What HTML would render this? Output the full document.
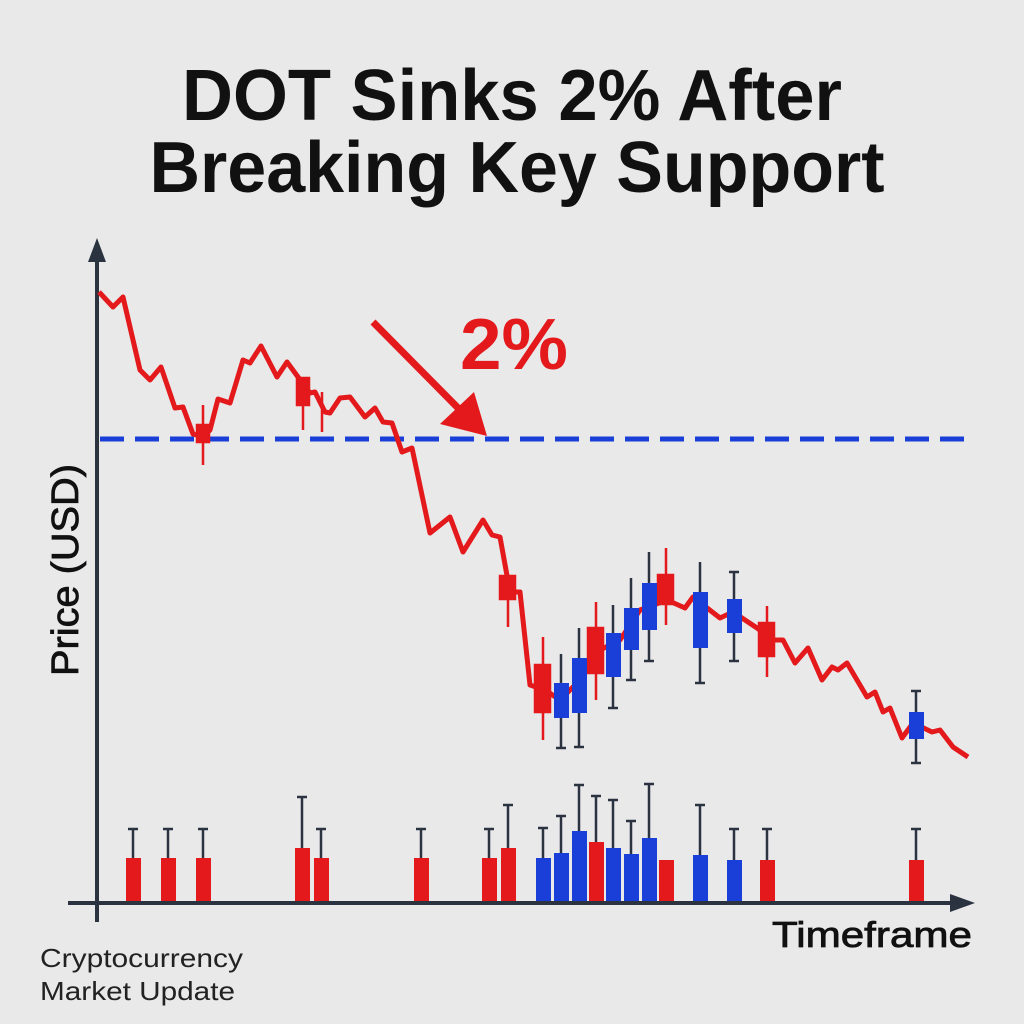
<!DOCTYPE html>
<html><head><style>html,body{margin:0;padding:0;background:#e9e9ea;}svg{display:block}</style></head>
<body>
<svg width="1024" height="1024" viewBox="0 0 1024 1024" xmlns="http://www.w3.org/2000/svg" font-family="Liberation Sans, Arial, sans-serif">
<rect width="1024" height="1024" fill="#e9e9ea"/>
<text x="512" y="120" text-anchor="middle" font-size="72" font-weight="bold" fill="#111" textLength="660" lengthAdjust="spacingAndGlyphs">DOT Sinks 2% After</text>
<text x="517" y="192" text-anchor="middle" font-size="72" font-weight="bold" fill="#111" textLength="735" lengthAdjust="spacingAndGlyphs">Breaking Key Support</text>

<g stroke="#2b3340" stroke-width="4" fill="#2b3340">
<line x1="97" y1="255" x2="97" y2="922"/>
<polygon points="97,238 88,262 106,262" stroke="none"/>
<line x1="68" y1="903" x2="955" y2="903"/>
<polygon points="975,903 950,894 950,912" stroke="none"/>
</g>

<line x1="100" y1="439" x2="970" y2="439" stroke="#1a3fd8" stroke-width="5" stroke-dasharray="24,11"/>

<polyline fill="none" stroke="#e3191c" stroke-width="5" stroke-linejoin="round" points="99,292 113,307 123,297 140,370 150,380 161,367 175,408 183,407 193,434 203,437 210,430 218,399 230,403 243,360 250,363 261,346 277,377 287,362 298,377 310,393 315,392 325,412 330,413 340,398 350,397 365,417 375,408 383,422 392,423 402,452 412,448 430,533 450,517 463,552 483,520 492,535 500,537 510,592 520,592 530,685 545,690 560,700 580,680 600,650 620,640 640,610 667,600 685,608 693,597 720,618 733,612 757,628 773,640 783,640 795,663 808,648 822,680 832,667 838,670 847,663 867,697 875,692 883,712 890,708 902,738 913,723 932,732 940,730 953,747 968,757"/>

<g stroke-width="2.5">
<g stroke="#e3191c" fill="#e3191c">
<line x1="203" y1="405" x2="203" y2="465"/><rect x="197" y="425" width="12" height="17"/>
<line x1="303" y1="378" x2="303" y2="430"/><rect x="297" y="378" width="12" height="27"/>
<line x1="322" y1="392" x2="322" y2="432"/>
<line x1="508" y1="576" x2="508" y2="627"/><rect x="500" y="576" width="15" height="23"/>
<line x1="543" y1="637" x2="543" y2="740"/><rect x="535" y="665" width="15" height="47"/>
<line x1="596" y1="602" x2="596" y2="700"/><rect x="588" y="628" width="15" height="45"/>
<line x1="666" y1="548" x2="666" y2="625"/><rect x="658" y="575" width="15" height="29"/>
<line x1="767" y1="606" x2="767" y2="677"/><rect x="759" y="623" width="15" height="33"/>
</g>
<g stroke="#2b3340">
<line x1="561" y1="654" x2="561" y2="748"/><line x1="556" y1="748" x2="566" y2="748"/>
<line x1="579" y1="628" x2="579" y2="747"/><line x1="574" y1="747" x2="584" y2="747"/>
<line x1="613" y1="605" x2="613" y2="708"/><line x1="608" y1="708" x2="618" y2="708"/>
<line x1="631" y1="578" x2="631" y2="680"/><line x1="626" y1="680" x2="636" y2="680"/>
<line x1="649" y1="552" x2="649" y2="661"/><line x1="644" y1="661" x2="654" y2="661"/>
<line x1="700" y1="562" x2="700" y2="683"/><line x1="695" y1="683" x2="705" y2="683"/>
<line x1="734" y1="572" x2="734" y2="661"/><line x1="729" y1="572" x2="739" y2="572"/><line x1="729" y1="661" x2="739" y2="661"/>
<line x1="916" y1="691" x2="916" y2="763"/><line x1="911" y1="691" x2="921" y2="691"/><line x1="911" y1="763" x2="921" y2="763"/>
</g>
<g fill="#1a3fd8">
<rect x="554" y="683" width="15" height="35"/>
<rect x="572" y="658" width="15" height="55"/>
<rect x="606" y="633" width="15" height="44"/>
<rect x="624" y="608" width="15" height="42"/>
<rect x="642" y="583" width="15" height="47"/>
<rect x="693" y="592" width="15" height="56"/>
<rect x="727" y="599" width="15" height="34"/>
<rect x="909" y="712" width="15" height="27"/>
</g>
</g>

<g stroke="#2b3340" stroke-width="2.5">
<path d="M133 858V829M128 829H138 M168 858V829M163 829H173 M203 858V829M198 829H208 M302 848V797M297 797H307 M321 858V829M316 829H326 M421 858V829M416 829H426 M489 858V829M484 829H494 M508 848V805M503 805H513 M543 858V828M538 828H548 M561 853V816M556 816H566 M579 831V785M574 785H584 M596 842V796M591 796H601 M613 848V800M608 800H618 M631 854V821M626 821H636 M649 838V784M644 784H654 M700 855V805M695 805H705 M734 860V829M729 829H739 M767 860V829M762 829H772 M916 860V829M911 829H921"/>
</g>
<g fill="#e3191c">
<rect x="126" y="858" width="15" height="43"/><rect x="161" y="858" width="15" height="43"/><rect x="196" y="858" width="15" height="43"/>
<rect x="295" y="848" width="15" height="53"/><rect x="314" y="858" width="15" height="43"/><rect x="414" y="858" width="15" height="43"/>
<rect x="482" y="858" width="15" height="43"/><rect x="501" y="848" width="15" height="53"/><rect x="589" y="842" width="15" height="59"/>
<rect x="659" y="860" width="15" height="41"/><rect x="760" y="860" width="15" height="41"/><rect x="909" y="860" width="15" height="41"/>
</g>
<g fill="#1a3fd8">
<rect x="536" y="858" width="15" height="43"/><rect x="554" y="853" width="15" height="48"/><rect x="572" y="831" width="15" height="70"/>
<rect x="606" y="848" width="15" height="53"/><rect x="624" y="854" width="15" height="47"/><rect x="642" y="838" width="15" height="63"/>
<rect x="693" y="855" width="15" height="46"/><rect x="727" y="860" width="15" height="41"/>
</g>

<line x1="373" y1="322" x2="462" y2="412" stroke="#e3191c" stroke-width="7"/>
<polygon points="487,436 440,424 474,392" fill="#e3191c"/>
<text x="460" y="369" font-size="72" font-weight="bold" fill="#e3191c" textLength="108" lengthAdjust="spacingAndGlyphs">2%</text>

<text transform="translate(78,570) rotate(-90)" text-anchor="middle" font-size="38" fill="#111" stroke="#111" stroke-width="0.8" textLength="212" lengthAdjust="spacingAndGlyphs">Price (USD)</text>
<text x="972" y="947" text-anchor="end" font-size="36" fill="#111" stroke="#111" stroke-width="0.8" textLength="200" lengthAdjust="spacingAndGlyphs">Timeframe</text>
<text x="40" y="967" font-size="26" fill="#222" textLength="203" lengthAdjust="spacingAndGlyphs">Cryptocurrency</text>
<text x="40" y="1000" font-size="26" fill="#222" textLength="195" lengthAdjust="spacingAndGlyphs">Market Update</text>
</svg>
</body></html>
